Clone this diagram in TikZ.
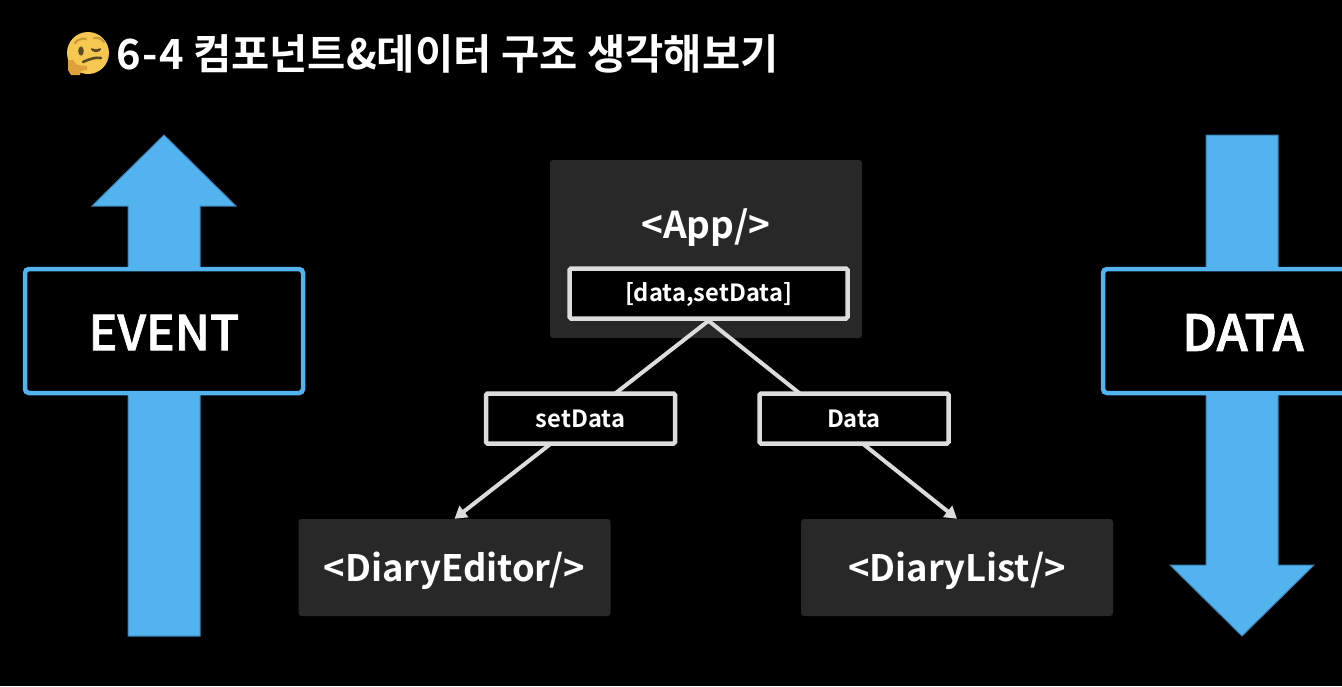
\documentclass[tikz,border=0pt]{standalone}
\usepackage{fontspec}
\usetikzlibrary{arrows.meta}
\setmainfont{Noto Sans CJK KR Medium}[FakeBold=1.5]
\newfontfamily\titlefont{Noto Sans CJK KR Bold}
\newcommand\lowered[2]{\raisebox{-#1}[\height][\depth]{#2}}
\definecolor{bluefill}{HTML}{53B3EF}
\definecolor{blueedge}{HTML}{3B7FB5}
\definecolor{panel}{HTML}{282828}
\definecolor{tagline}{HTML}{DCDCDC}
\definecolor{face}{HTML}{F6C851}
\definecolor{hand}{HTML}{DDA23C}
\definecolor{feature}{HTML}{5B4A25}
\definecolor{brow}{HTML}{C99A3A}
\tikzset{
  x=1pt,y=-1pt,
  panelbox/.style={fill=panel,rounded corners=3pt,inner sep=0pt,text=white,font=\fontsize{36.4}{40}\selectfont\titlefont},
  tagbox/.style={draw=tagline,line width=4.5pt,fill=black,rounded corners=1.5pt,inner sep=0pt,text=white,font=\fontsize{23.7}{26}\selectfont\titlefont},
  bigbox/.style={draw=bluefill,line width=4.5pt,fill=black,rounded corners=4pt,inner sep=0pt,text=white,font=\fontsize{48}{54}\selectfont},
  blockarrow/.style={fill=bluefill,draw=blueedge,line width=1pt},
  link/.style={draw=tagline,line width=4pt,-{Triangle[length=12pt,width=14pt,fill=tagline]}}
}
\begin{document}
\begin{tikzpicture}
\useasboundingbox (0,0) rectangle (1342,686);
\clip (0,0) rectangle (1342,686);
\fill[black] (0,0) rectangle (1342,686);
% block arrows
\draw[blockarrow] (128,636) -- (128,206) -- (92,206) -- (164,135) -- (236,206) -- (200,206) -- (200,636) -- cycle;
\draw[blockarrow] (1206,135) -- (1278,135) -- (1278,565) -- (1314,565) -- (1242,636) -- (1170,565) -- (1206,565) -- cycle;
\node[bigbox,minimum width=278pt,minimum height=124pt] (event) at (164,331) {\lowered{1.5pt}{EVENT}};
\node[bigbox,minimum width=280pt,minimum height=124pt,font=\fontsize{50}{54}\selectfont] (datab) at (1243,331) {\lowered{1.5pt}{DATA}};
% panels
\node[panelbox,minimum width=312pt,minimum height=178pt] (app) at (706,249) {};
\node[text=white,font=\fontsize{37}{40}\selectfont\titlefont,inner sep=0pt] (applbl) at (706,228) {<App/>};
\node[panelbox,minimum width=312pt,minimum height=97pt] (editor) at (454.5,567.5) {\lowered{3pt}{<DiaryEditor/>}};
\node[panelbox,minimum width=312pt,minimum height=97pt] (list) at (957,567.5) {\lowered{3pt}{<DiaryList/>}};
% tags and connectors
\node[tagbox,minimum width=278pt,minimum height=50pt] (state) at (708.5,293.5) {\lowered{1.5pt}{[data,setData]}};
\draw[link] (state.south) -- (editor.north);
\draw[link] (state.south) -- (list.north);
\node[tagbox,minimum width=189pt,minimum height=50pt] (setd) at (580.5,418.5) {setData};
\node[tagbox,minimum width=189pt,minimum height=50pt] (datat) at (854,418.5) {Data};
% title
\node[anchor=west,text=white,font=\fontsize{41.6}{46}\selectfont\titlefont,inner sep=0pt] (title) at (116,54) {6\kern1.5pt-\kern1.5pt4 컴포넌트\&데이터 구조 생각해보기};
% emoji
\fill[face] (88,53) circle (21);
\draw[brow,line width=2.2pt,line cap=round] (75,43) .. controls (78,39) and (83,38) .. (86,39);
\draw[brow,line width=2.2pt,line cap=round] (94,38) .. controls (98,37) and (102,39) .. (104,42);
\fill[feature] (81,51) ellipse (2.8 and 4.6);
\fill[feature] (96,49) ellipse (5 and 3.2);
\fill[face] (96,47) ellipse (5.5 and 2);
\draw[feature,line width=2.6pt,line cap=round] (83,62) .. controls (90,59) and (95,57) .. (101,58);
\fill[hand] (68,60) -- (73,60) -- (77,65) -- (87,66) -- (87,70) -- (81,71) -- (80,75) -- (71,75) -- (68,70) -- cycle;
\end{tikzpicture}
\end{document}
